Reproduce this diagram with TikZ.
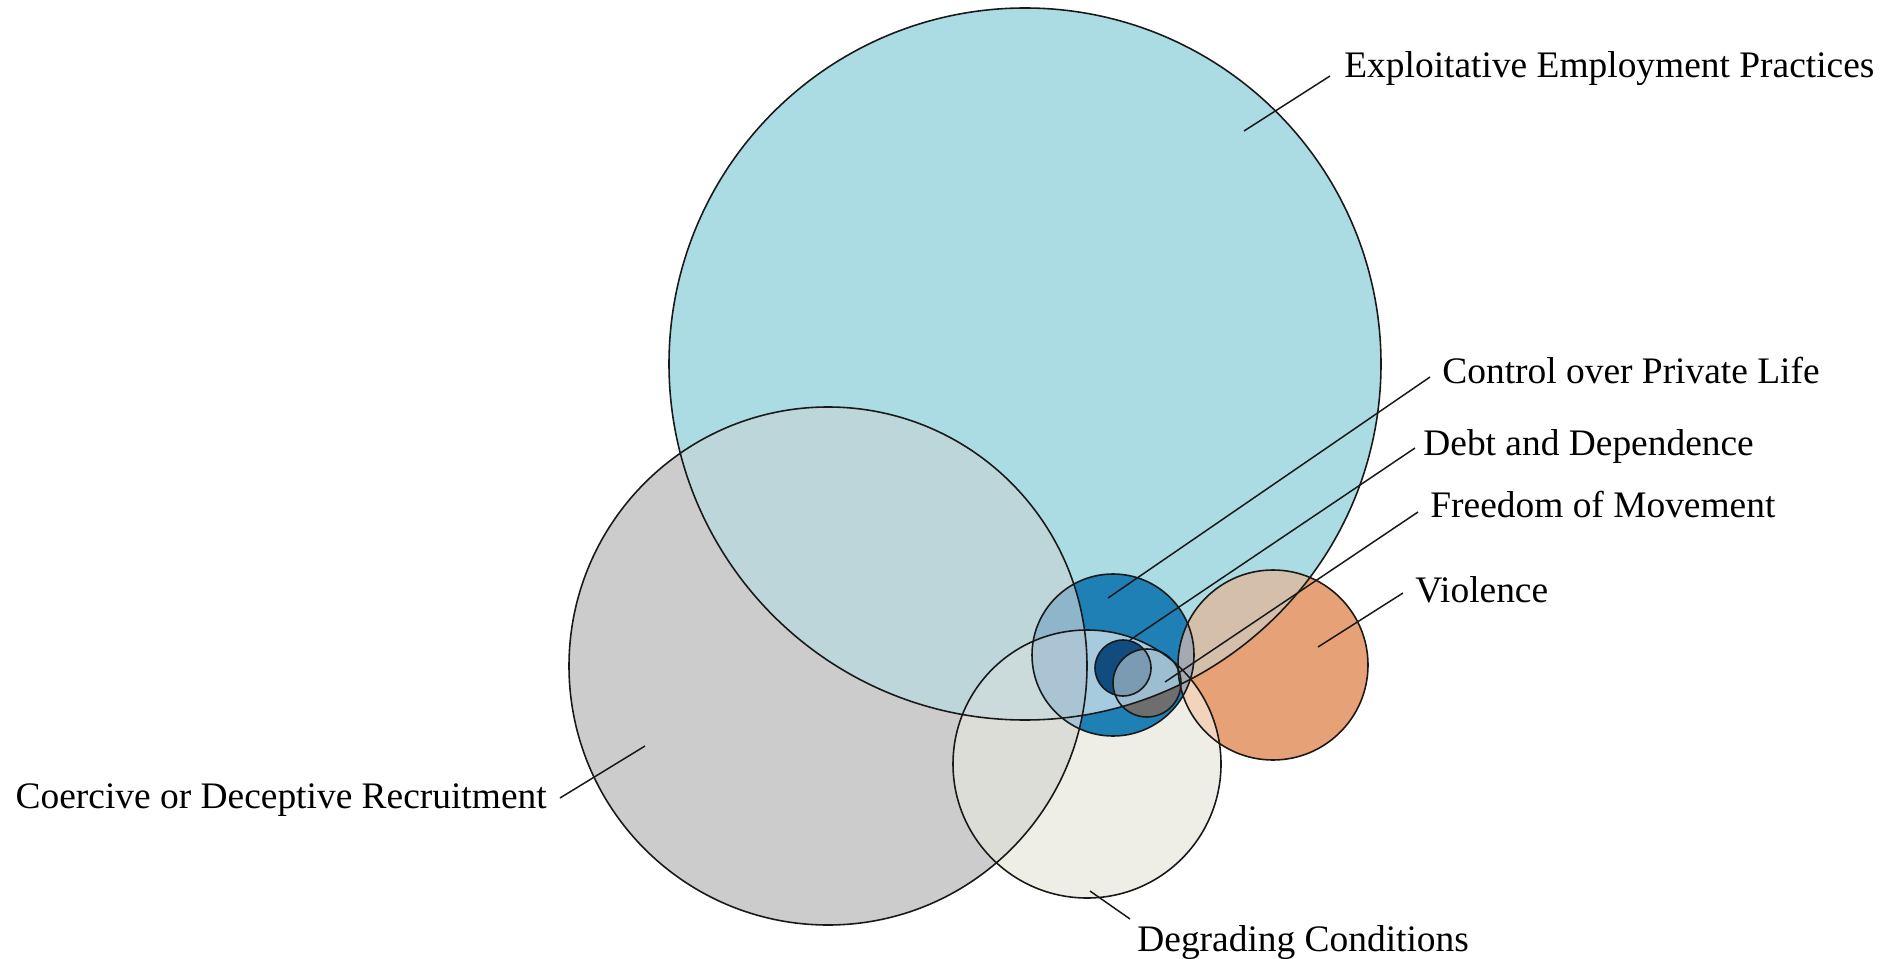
\documentclass[tikz,border=0pt]{standalone}
\usepackage{fontspec}
\setmainfont{Liberation Serif}

\definecolor{colE}{RGB}{171,220,227}
\definecolor{colC}{RGB}{204,204,204}
\definecolor{colD}{RGB}{238,238,230}
\definecolor{colV}{RGB}{230,162,118}
\definecolor{colEC}{RGB}{189,214,218}
\definecolor{colCD}{RGB}{221,221,215}
\definecolor{colECD}{RGB}{203,218,219}
\definecolor{colEV}{RGB}{212,191,171}
\definecolor{colDV}{RGB}{241,212,187}
\definecolor{colK}{RGB}{31,128,181}
\definecolor{colKC}{RGB}{143,181,203}
\definecolor{colKCD}{RGB}{170,196,212}
\definecolor{colKED}{RGB}{166,203,222}
\definecolor{colKV}{RGB}{165,170,178}
\definecolor{colB}{RGB}{16,76,128}
\definecolor{colBF}{RGB}{122,155,178}
\definecolor{colF}{RGB}{157,189,208}
\definecolor{colFd}{RGB}{110,110,110}

% the seven sets
\newcommand{\setE}{(cE) circle (356)}
\newcommand{\setC}{(cC) circle (259)}
\newcommand{\setD}{(cD) circle (134)}
\newcommand{\setV}{(cV) circle (95)}
\newcommand{\setK}{(cK) circle (81)}
\newcommand{\setB}{(cB) circle (28)}
\newcommand{\setF}{(cF) circle (34)}

\begin{document}
\begin{tikzpicture}[x=0.02cm, y=0.02cm, font=\fontsize{21.3}{25}\selectfont,
  rim/.style={draw=black!90, line width=0.9pt},
  lead/.style={draw=black!90, line width=0.85pt},
  lbl/.style={inner sep=0pt}]

\useasboundingbox (0,0) rectangle (1886,958);

\coordinate (cE) at (1025,594);
\coordinate (cC) at (828,292);
\coordinate (cD) at (1087,194);
\coordinate (cV) at (1273,293);
\coordinate (cK) at (1113,303);
\coordinate (cB) at (1123,290);
\coordinate (cF) at (1147,275);

% big sets and their overlaps
\fill[colE] \setE;
\fill[colC] \setC;
\fill[colD] \setD;
\fill[colV] \setV;
\begin{scope} \clip \setE; \fill[colEC] \setC; \end{scope}
\begin{scope} \clip \setC; \fill[colCD] \setD; \end{scope}
\begin{scope} \clip \setE; \clip \setC; \fill[colECD] \setD; \end{scope}
\begin{scope} \clip \setE; \fill[colEV] \setV; \end{scope}
\begin{scope} \clip \setD; \fill[colDV] \setV; \end{scope}

% control over private life
\fill[colK] \setK;
\begin{scope} \clip \setK; \clip \setE; \fill[colKED] \setD; \end{scope}
\begin{scope} \clip \setK; \fill[colKC] \setC; \end{scope}
\begin{scope} \clip \setK; \clip \setC; \fill[colKCD] \setD; \end{scope}
\begin{scope} \clip \setK; \fill[colKV] \setV; \end{scope}

% debt, freedom
\fill[colB] \setB;
\fill[colFd] \setF;
\begin{scope} \clip \setE; \fill[colF] \setF; \end{scope}
\begin{scope} \clip \setB; \fill[colBF] \setF; \end{scope}

\foreach \s in {\setE,\setC,\setD,\setV,\setK,\setB,\setF}
  \draw[rim] \s;

% labels
\node[lbl, anchor=base west] (lE) at (1344,880) {Exploitative Employment Practices};
\node[lbl, anchor=base west] (lK) at (1442,575) {Control over Private Life};
\node[lbl, anchor=base west] (lB) at (1423,503) {Debt and Dependence};
\node[lbl, anchor=base west] (lF) at (1430,441) {Freedom of Movement};
\node[lbl, anchor=base west] (lV) at (1415,356) {Violence};
\node[lbl, anchor=base east] (lC) at (547,150) {Coercive or Deceptive Recruitment};
\node[lbl, anchor=base west] (lD) at (1137,7) {Degrading Conditions};

\coordinate (pE) at (1244,827);
\coordinate (pK) at (1108,360);
\coordinate (pB) at (1130,318);
\coordinate (pF) at (1165,276);
\coordinate (pV) at (1318,311);
\coordinate (pC) at (645,212);
\coordinate (pD) at (1090,67);

\draw[lead] (pE) -- ([shift={(-14,2)}]lE.base west);
\draw[lead] (pK) -- ([shift={(-12,6)}]lK.base west);
\draw[lead] (pB) -- ([shift={(-8,7)}]lB.base west);
\draw[lead] (pF) -- ([shift={(-12,5)}]lF.base west);
\draw[lead] (pV) -- ([shift={(-12,9)}]lV.base west);
\draw[lead] (pC) -- ([shift={(13,10)}]lC.base east);
\draw[lead] (pD) -- ([shift={(-7,32)}]lD.base west);

\end{tikzpicture}
\end{document}
